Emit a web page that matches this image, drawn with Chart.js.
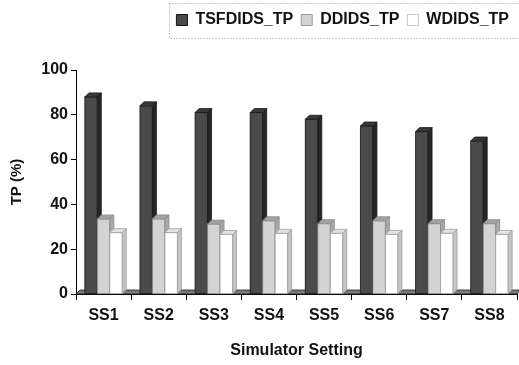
<!DOCTYPE html>
<html>
<head>
<meta charset="utf-8">
<script src="https://cdn.jsdelivr.net/npm/chart.js@4.4.1/dist/chart.umd.min.js"></script>
<style>
  html, body { margin: 0; padding: 0; background: #fff; }
  #wrap { width: 519px; height: 365px; }
</style>
</head>
<body>
<div id="wrap"><canvas id="c" width="519" height="365"></canvas></div>
<script>
// Simulator settings and true-positive rates (%) per detector
const categories = ['SS1', 'SS2', 'SS3', 'SS4', 'SS5', 'SS6', 'SS7', 'SS8'];
const tsfdidsTP = [88, 84, 81, 81, 78, 75, 72.5, 68.3];
const ddidsTP   = [33.5, 33.5, 31.2, 32.7, 31.4, 32.7, 31.4, 31.4];
const wdidsTP   = [27.4, 27.4, 26.6, 27.1, 27.1, 26.6, 27.1, 26.6];
const seriesNames = ['TSFDIDS_TP', 'DDIDS_TP', 'WDIDS_TP'];
const yTicks = [0, 20, 40, 60, 80, 100];

// face shades: front, top, side, outline
const shades = [
  { front: '#4a4a4a', top: '#383838', side: '#262626', edge: '#1a1a1a' },
  { front: '#d3d3d3', top: '#a3a3a3', side: '#a8a8a8', edge: '#8a8a8a' },
  { front: '#ffffff', top: '#e2e2e2', side: '#c4c4c4', edge: '#a0a0a0' }
];
const DX = 4, DY = 4;
const FONT = '"Liberation Sans", Arial, sans-serif';

function poly(ctx, pts, fill, stroke) {
  ctx.beginPath();
  ctx.moveTo(pts[0][0], pts[0][1]);
  for (let i = 1; i < pts.length; i++) ctx.lineTo(pts[i][0], pts[i][1]);
  ctx.closePath();
  ctx.fillStyle = fill;
  ctx.fill();
  ctx.strokeStyle = stroke;
  ctx.lineWidth = 0.8;
  ctx.stroke();
}

// Draws the floor slab and extruded bar faces from the bar elements' geometry
const boxes3d = {
  id: 'boxes3d',
  beforeDatasetsDraw(chart) {
    const ctx = chart.ctx;
    const a = chart.chartArea;
    const y0 = chart.scales.y.getPixelForValue(0);
    ctx.save();
    poly(ctx, [[a.left, y0], [a.left + DX, y0 - DY], [a.right + DX, y0 - DY], [a.right, y0]], '#7a7a7a', '#222');
    ctx.restore();
  },
  afterDatasetsDraw(chart) {
    const ctx = chart.ctx;
    ctx.save();
    const metas = chart.data.datasets.map((d, i) => chart.getDatasetMeta(i));
    for (let j = 0; j < categories.length; j++) {
      metas.forEach((meta, i) => {
        const el = meta.data[j];
        const s = shades[i];
        const l = el.x - el.width / 2, r = el.x + el.width / 2;
        const t = el.y, b = el.base;
        poly(ctx, [[l, t], [r, t], [r, b], [l, b]], s.front, s.edge);
        poly(ctx, [[l, t], [l + DX, t - DY], [r + DX, t - DY], [r, t]], s.top, s.edge);
        poly(ctx, [[r, t], [r + DX, t - DY], [r + DX, b - DY], [r, b]], s.side, s.edge);
      });
    }
    ctx.restore();
  },
  afterDraw(chart) {
    // dotted frame round the legend row
    const lg = chart.legend;
    if (!lg || !lg.legendHitBoxes.length) return;
    const ctx = chart.ctx;
    const first = lg.legendHitBoxes[0];
    ctx.save();
    ctx.strokeStyle = '#9a9a9a';
    ctx.lineWidth = 1;
    ctx.setLineDash([1, 2]);
    ctx.strokeRect(Math.round(first.left - 7) + 0.5, 3.5, chart.width, 35);
    ctx.restore();
  }
};

// Fixed legend band height
const legendBand = {
  id: 'legendBand',
  beforeInit(chart) {
    const fit = chart.legend.fit;
    chart.legend.fit = function () {
      fit.call(this);
      this.height = 66;
    };
  }
};

new Chart(document.getElementById('c'), {
  type: 'bar',
  data: {
    labels: categories,
    datasets: [
      { label: seriesNames[0], data: tsfdidsTP, backgroundColor: shades[0].front, borderColor: '#111', borderWidth: 1 },
      { label: seriesNames[1], data: ddidsTP, backgroundColor: shades[1].front, borderColor: '#9a9a9a', borderWidth: 1 },
      { label: seriesNames[2], data: wdidsTP, backgroundColor: shades[2].front, borderColor: '#c8c8c8', borderWidth: 1 }
    ]
  },
  options: {
    responsive: false,
    animation: false,
    devicePixelRatio: 1,
    layout: { padding: { left: 0, right: 2, top: 4, bottom: 0 } },
    datasets: { bar: { categoryPercentage: 0.68, barPercentage: 1.0 } },
    plugins: {
      tooltip: { enabled: false },
      legend: {
        position: 'top',
        align: 'end',
        labels: {
          boxWidth: 11,
          boxHeight: 11,
          padding: 8,
          color: '#111',
          font: { family: FONT, size: 16, weight: 'bold' }
        }
      }
    },
    scales: {
      x: {
        offset: true,
        grid: { display: true, offset: true, drawOnChartArea: false, drawTicks: true, tickLength: 6, color: '#000' },
        border: { display: true, color: '#000', width: 1 },
        ticks: { color: '#111', padding: 6, font: { family: FONT, size: 16, weight: 'bold' } },
        title: {
          display: true,
          text: 'Simulator Setting',
          color: '#111',
          font: { family: FONT, size: 16, weight: 'bold' },
          padding: { top: 4, bottom: 5 }
        },
        afterFit(scale) { scale.height = 71; }
      },
      y: {
        min: 0,
        max: 100,
        afterBuildTicks(scale) { scale.ticks = yTicks.map(v => ({ value: v })); },
        grid: { display: true, drawOnChartArea: false, drawTicks: true, tickLength: 5, color: '#000' },
        border: { display: true, color: '#000', width: 1 },
        ticks: { color: '#111', padding: 3, font: { family: FONT, size: 16, weight: 'bold' } },
        title: {
          display: true,
          text: 'TP (%)',
          color: '#111',
          font: { family: FONT, size: 15, weight: 'bold' },
          padding: { top: 8, bottom: 10 }
        },
        afterFit(scale) { scale.width = 76; }
      }
    }
  },
  plugins: [legendBand, boxes3d]
});
</script>
</body>
</html>
